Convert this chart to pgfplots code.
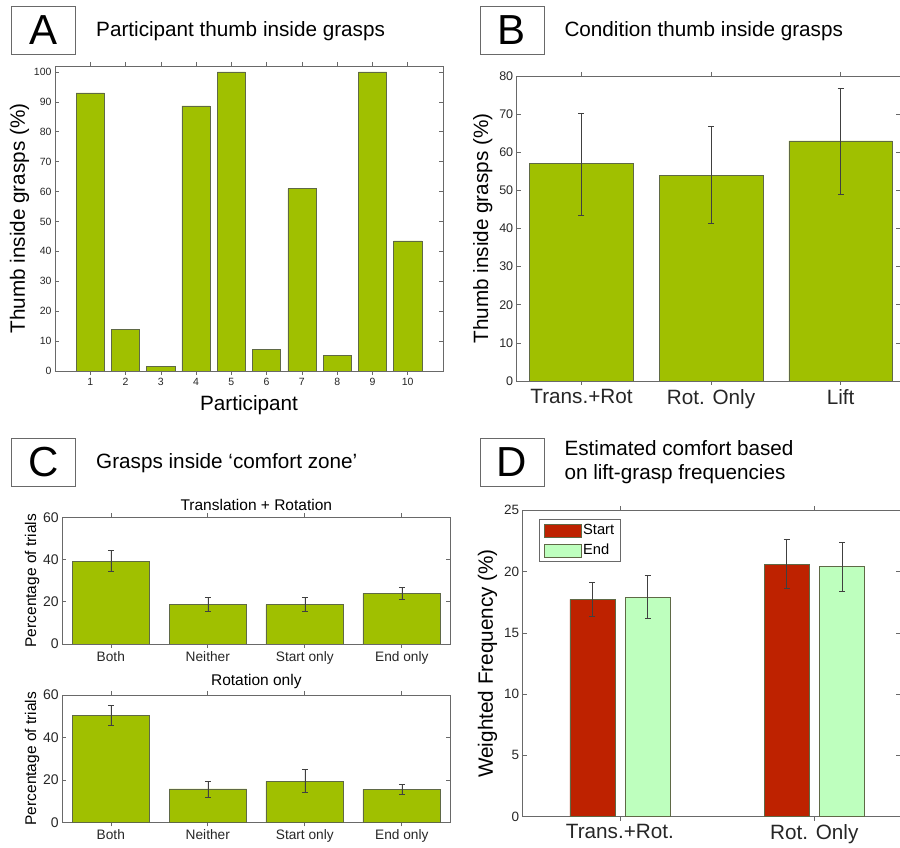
\documentclass[border=0pt]{standalone}
\usepackage{fontspec}
\setmainfont{Liberation Sans}
\usepackage{pgfplots}
\usepackage{pgfplotstable}
\pgfplotsset{compat=1.18}
\definecolor{barg}{RGB}{160,192,0}
\definecolor{barr}{RGB}{190,34,0}
\definecolor{barl}{RGB}{190,255,190}
\definecolor{axg}{RGB}{105,105,105}
\definecolor{edg}{RGB}{95,105,70}
\newcommand\fbig{\fontsize{20.7}{23.3}\selectfont}
\newcommand\fletter{\fontsize{42}{46}\selectfont}

\pgfplotstableread{
x y
1 93
2 14
3 1.5
4 88.7
5 100
6 7.2
7 61
8 5.3
9 100
10 43.5
}\tabA
\pgfplotstableread{
x y ep em
1 57 13.3 13.5
2 54 12.8 12.7
3 63 13.8 14.0
}\tabB
\pgfplotstableread{
x y ep em
1 39.3 5.1 4.9
2 18.9 3.2 3.6
3 18.6 3.5 3.3
4 24.0 2.7 2.8
}\tabCa
\pgfplotstableread{
x y ep em
1 50.5 4.8 4.6
2 15.7 3.6 3.8
3 19.3 5.5 5.2
4 15.5 2.5 2.3
}\tabCb
\pgfplotstableread{
x y ep em
1 17.74 1.39 1.42
2 20.60 2.06 1.97
}\tabDs
\pgfplotstableread{
x y ep em
1 17.90 1.80 1.71
2 20.40 2.01 2.04
}\tabDe

\pgfplotsset{
  mat/.style={
    scale only axis, anchor=south west,
    axis line style={axg, line width=0.8pt},
    tick align=inside, major tick length=4pt,
    every tick/.style={axg, line width=0.6pt},
    xtick pos=both, ytick pos=both,
    /pgf/number format/assume math mode=true,
    tick label style={black!85},
    label style={black},
    ybar, bar width=0.8,
  },
  barsty/.style={fill=barg, draw=edg, line width=0.5pt},
  errsty/.style={error bars/.cd, y dir=both, y explicit,
    error bar style={black!75, line width=0.5pt},
    error mark options={rotate=90, black!75, line width=0.5pt, mark size=3pt}},
}

\begin{document}
\begin{tikzpicture}
\path[use as bounding box] (0,0) rectangle (900pt,848pt);

% ---------------- Panel A ----------------
\node[draw=axg, line width=0.6pt, minimum width=64pt, minimum height=47.6pt, inner sep=0pt] at (43.7pt,817.5pt) {\fletter A};
\node[anchor=base west, inner sep=0pt] at (96pt,811.3pt) {\fbig Participant thumb inside grasps};
\begin{axis}[mat,
  at={(55pt,477pt)}, width=388pt, height=305pt,
  xmin=0, xmax=11, ymin=0, ymax=102,
  xtick={1,...,10}, ytick={0,10,...,100},
  tick label style={font=\fontsize{10.5}{12}\selectfont},
  xlabel={\fbig Participant}, ylabel={\fbig Thumb inside grasps (\%)},
  xlabel style={yshift=-3pt}, ylabel style={yshift=-2pt},
]
\addplot[barsty] table[x=x,y=y] {\tabA};
\end{axis}

% ---------------- Panel B ----------------
\node[draw=axg, line width=0.6pt, minimum width=64pt, minimum height=47.6pt, inner sep=0pt] at (511.8pt,817.5pt) {\fletter B};
\node[anchor=base west, inner sep=0pt] at (564.3pt,811.3pt) {\fbig Condition thumb inside grasps};
\begin{axis}[mat,
  at={(516.7pt,467pt)}, width=383.3pt, height=305pt,
  xmin=0.5, xmax=3.458, ymin=0, ymax=80,
  xtick={1,2,3}, xticklabels={Trans.+Rot, Rot. Only, Lift},
  ytick={0,10,...,80},
  yticklabel style={font=\fontsize{12.5}{14}\selectfont},
  xticklabel style={font=\fbig, yshift=-1pt},
  ylabel={\fbig Thumb inside grasps (\%)},
]
\addplot[barsty, errsty] table[x=x,y=y,y error plus=ep,y error minus=em] {\tabB};
\end{axis}

% ---------------- Panel C ----------------
\node[draw=axg, line width=0.6pt, minimum width=64pt, minimum height=48.4pt, inner sep=0pt] at (43.7pt,385.5pt) {\fletter C};
\node[anchor=base west, inner sep=0pt] at (96pt,379.7pt) {\fbig Grasps inside ‘comfort zone’};
\begin{axis}[mat,
  at={(62.3pt,204pt)}, width=388pt, height=126.7pt,
  xmin=0.5, xmax=4.5, ymin=0, ymax=60,
  xtick={1,2,3,4}, xticklabels={Both, Neither, Start only, End only},
  ytick={0,20,40,60},
  yticklabel style={font=\fontsize{14}{16}\selectfont},
  xticklabel style={font=\fontsize{13.7}{16}\selectfont},
  ylabel={\fontsize{15.5}{18}\selectfont Percentage of trials},
  ylabel style={yshift=-3pt},
  title={\fontsize{15.5}{18}\selectfont Translation + Rotation},
  title style={yshift=-3pt},
]
\addplot[barsty, errsty] table[x=x,y=y,y error plus=ep,y error minus=em] {\tabCa};
\end{axis}
\begin{axis}[mat,
  at={(62.3pt,25.7pt)}, width=388pt, height=127.3pt,
  xmin=0.5, xmax=4.5, ymin=0, ymax=60,
  xtick={1,2,3,4}, xticklabels={Both, Neither, Start only, End only},
  ytick={0,20,40,60},
  yticklabel style={font=\fontsize{14}{16}\selectfont},
  xticklabel style={font=\fontsize{13.7}{16}\selectfont},
  ylabel={\fontsize{15.5}{18}\selectfont Percentage of trials},
  ylabel style={yshift=-3pt},
  title={\fontsize{15.5}{18}\selectfont Rotation only},
  title style={yshift=-3pt},
]
\addplot[barsty, errsty] table[x=x,y=y,y error plus=ep,y error minus=em] {\tabCb};
\end{axis}

% ---------------- Panel D ----------------
\node[draw=axg, line width=0.6pt, minimum width=64pt, minimum height=48.4pt, inner sep=0pt] at (511.8pt,385.5pt) {\fletter D};
\node[anchor=base west, inner sep=0pt] at (564.3pt,392pt) {\fbig Estimated comfort based};
\node[anchor=base west, inner sep=0pt] at (564.3pt,368.7pt) {\fbig on lift-grasp frequencies};
\begin{axis}[mat,
  at={(522.7pt,31.3pt)}, width=377.3pt, height=306.4pt,
  xmin=0.5, xmax=2.441, ymin=0, ymax=25,
  xtick={1,2}, xticklabels={Trans.+Rot., Rot. Only},
  ytick={0,5,...,25},
  yticklabel style={font=\fontsize{13.5}{16}\selectfont},
  xticklabel style={font=\fbig},
  ylabel={\fbig Weighted Frequency (\%)},
  bar width=0.2316,
  legend style={at={(0.044,0.971)}, anchor=north west, draw=axg, line width=0.6pt,
    font=\fontsize{14.7}{17}\selectfont, inner xsep=4pt, inner ysep=3pt,
    row sep=4pt},
  legend cell align=left,
  legend image code/.code={\draw[#1] (0pt,-6.5pt) rectangle (37pt,6.5pt);},
]
\addplot[fill=barr, draw=edg, line width=0.5pt, bar shift=-0.142, errsty]
  table[x=x,y=y,y error plus=ep,y error minus=em] {\tabDs};
\addlegendentry{Start}
\addplot[fill=barl, draw=edg, line width=0.5pt, bar shift=0.143, errsty]
  table[x=x,y=y,y error plus=ep,y error minus=em] {\tabDe};
\addlegendentry{End}
\end{axis}
\end{tikzpicture}
\end{document}
